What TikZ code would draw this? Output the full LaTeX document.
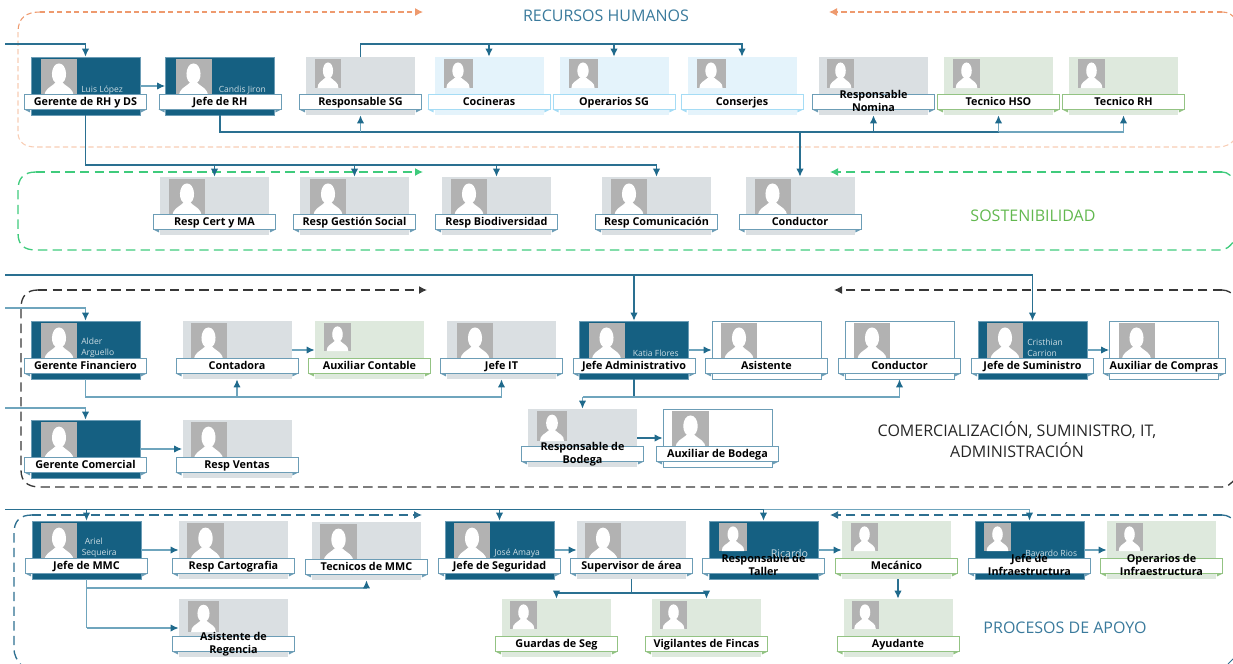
\documentclass[tikz,border=0pt]{standalone}
\usepackage{fontspec}
\setmainfont{Open Sans}
\usetikzlibrary{arrows.meta,calc}
\definecolor{dk}{HTML}{156082}
\definecolor{cgray}{HTML}{DADFE2}
\definecolor{cblue}{HTML}{E4F3FB}
\definecolor{cgreen}{HTML}{DEE9DD}
\definecolor{edgeDark}{HTML}{6C9DB6}
\definecolor{edgeGray}{HTML}{6C9DB6}
\definecolor{edgeBlue}{HTML}{A5DCF5}
\definecolor{edgeGreen}{HTML}{93C383}
\definecolor{edgeWhite}{HTML}{6C9DB6}
\definecolor{connc}{HTML}{2A7091}
\definecolor{connl}{HTML}{6FA5BD}
\definecolor{tipc}{HTML}{1F6A8C}
\definecolor{heading}{HTML}{3A7A9C}
\definecolor{sosc}{HTML}{62B84F}
\definecolor{orangeA}{HTML}{EE9A6E}
\definecolor{orangeB}{HTML}{F8CDB4}
\definecolor{greenA}{HTML}{3FCB7C}
\definecolor{blackA}{HTML}{383838}
\definecolor{blueA}{HTML}{2D6F90}
\tikzset{
  cardbase/.style={rectangle,inner sep=0pt,minimum width=81.75pt,minimum height=43.5pt,line width=.6pt},
  cardDark/.style={cardbase,fill=dk,draw=edgeDark},
  cardGray/.style={cardbase,fill=cgray},
  cardBlue/.style={cardbase,fill=cblue},
  cardGreen/.style={cardbase,fill=cgreen},
  cardWhite/.style={cardbase,fill=white,draw=edgeWhite},
  ribbon/.style={rectangle,fill=white,line width=.7pt,inner sep=0pt,minimum width=91.5pt,minimum height=11.25pt},
  ribtext/.style={inner sep=0pt,align=center,font=\bfseries\fontsize{8.1}{9.6}\selectfont,text=black},
  person/.style={inner sep=0pt,anchor=west,text=white!78!dk,font=\fontsize{6.4}{8.4}\selectfont,align=left},
  heading/.style={inner sep=0pt,align=center,font=\fontsize{12}{15.5}\selectfont},
  conn/.style={draw=connc,line width=.8pt},
  connL/.style={draw=connl,line width=.9pt},
  tip/.style={-{Latex[length=6pt,width=5.5pt,color=tipc]}},
  dashO/.style={line width=.8pt,dash pattern=on 4pt off 2.4pt},
  dashG/.style={line width=1pt,dash pattern=on 7pt off 4pt},
  tipB/.style={-{Latex[length=6pt,width=6pt]}},
}
\newcommand{\photo}[4]{%
  \begin{scope}[shift={(#1,#2)},x=#3*.75pt,y=-#4*.75pt]
    \fill[fill=black!30] (0,0) rectangle (1,1);
    \fill[white] (.5,.12) .. controls (.74,.12) and (.78,.66) .. (.5,.68) .. controls (.22,.66) and (.26,.12) .. (.5,.12);
    \fill[white] (.1,1) .. controls (.1,.8) and (.25,.78) .. (.4,.64) -- (.6,.64) .. controls (.75,.78) and (.9,.8) .. (.9,1) -- cycle;
  \end{scope}}
% name, x0, top, kind, photo dx, photo w, photo h, title
\newcommand{\card}[8]{%
  \node[card#4] (#1) at ({#2+54.5},{#3+29}) {};
  \photo{#2+#5}{#3+2}{#6}{#7}
  \node[ribbon,draw=edge#4] (#1r) at ({#2+54.5},{#3+44.5}) {};
  \fill[edge#4] (#1r.south west) -- ++(6,0) -- ++(0,3) -- cycle;
  \fill[edge#4] (#1r.south east) -- ++(-6,0) -- ++(0,3) -- cycle;
  \node[ribtext,yshift=-.8pt] (#1t) at (#1r.center) {\strut #8\strut};
}
\begin{document}
\begin{tikzpicture}[x=.75pt,y=-.75pt]
\useasboundingbox (0,0) rectangle (1233,664);
\clip (0,0) rectangle (1233,664);
% section frames
\draw[orangeA,dashO,tipB] (40,12) -- (423,12);
\draw[orangeA,dashO] (40,12) .. controls (26,12) and (18,18) .. (18,32);
\draw[orangeB,dashO] (18,32) -- (18,132) .. controls (18,142) and (24,147) .. (36,147) -- (1218,147) .. controls (1225,147) and (1230,145) .. (1236,138);
\draw[orangeA,dashO] (1222,12) .. controls (1228,12) and (1232,14) .. (1236,20);
\draw[orangeA,dashO,tipB] (1222,12) -- (829,12);
\draw[greenA,dashG,tipB] (36,172) -- (423,172);
\draw[greenA,dashG] (36,172) .. controls (24,172) and (18,178) .. (18,190) -- (18,233) .. controls (18,245) and (24,250) .. (36,250) -- (1220,250) .. controls (1226,250) and (1230,247) .. (1236,238);
\draw[greenA,dashG,tipB] (1222,172) -- (830,172);
\draw[greenA,dashG] (1222,172) .. controls (1228,172) and (1232,176) .. (1236,184);
\draw[blackA,dashG,tipB] (38,290) -- (427,290);
\draw[blackA,dashG] (38,290) .. controls (27,290) and (21,296) .. (21,308) -- (21,470) .. controls (21,481) and (27,487) .. (40,487) -- (1222,487) .. controls (1227,487) and (1231,484) .. (1236,478);
\draw[blackA,dashG,tipB] (1222,290) -- (834,290);
\draw[blackA,dashG] (1222,290) .. controls (1228,290) and (1232,293) .. (1236,298);
\draw[blueA,dashG,tipB] (32,515) -- (422,515);
\draw[blueA,dashG] (32,515) .. controls (20,515) and (14,521) .. (14,533) -- (14,648) .. controls (14,656) and (17,660) .. (22,666);
\draw[blueA,dashG,tipB] (1222,515) -- (830,515);
\draw[blueA,dashG] (1222,515) .. controls (1228,515) and (1232,518) .. (1236,523);
\draw[blueA,line width=.7pt] (1228,664) -- (1236,656);
% free ends and bus levels
\coordinate (inRH) at (5,44);
\coordinate (busSG) at (0,44);
\coordinate (busJefe) at (0,132);
\coordinate (busSos) at (0,165);
\coordinate (busCom) at (5,275);
\coordinate (inFin) at (5,308);
\coordinate (inCom) at (5,408);
\coordinate (busFin) at (0,397);
\coordinate (busAdm) at (0,397);
\coordinate (busApo) at (5,509.5);
\coordinate (busMMC) at (0,588);
\coordinate (busReg) at (0,628);
\coordinate (busSup) at (0,593);
% cards
\card{gerRH}{31}{57}{Dark}{10}{36}{37}{Gerente de RH y DS}
\card{jefRH}{165.5}{57}{Dark}{10}{36}{37}{Jefe de RH}
\card{respSG}{306}{57}{Gray}{9}{26}{29}{Responsable SG}
\card{cocin}{434.5}{57}{Blue}{9}{29}{29}{Cocineras}
\card{operSG}{559.5}{57}{Blue}{9}{29}{29}{Operarios SG}
\card{consj}{687.5}{57}{Blue}{9}{29}{29}{Conserjes}
\card{nomina}{819}{57}{Gray}{8}{27}{29}{Responsable\\Nomina}
\card{tecHSO}{944}{57}{Green}{9}{27}{29}{Tecnico HSO}
\card{tecRH}{1069}{57}{Green}{9}{27}{29}{Tecnico RH}
\card{certMA}{160}{177}{Gray}{9}{36}{37}{Resp Cert y MA}
\card{gestS}{300}{177}{Gray}{10}{36}{37}{Resp Gestión Social}
\card{biodv}{442}{177}{Gray}{9}{36}{37}{Resp Biodiversidad}
\card{comun}{602}{177}{Gray}{9}{36}{37}{Resp Comunicación}
\card{condA}{745.5}{177}{Gray}{9}{36}{37}{Conductor}
\card{gerFin}{31}{321}{Dark}{10}{36}{37}{Gerente Financiero}
\card{contad}{182.5}{321}{Gray}{8}{36}{37}{Contadora}
\card{auxCont}{315}{321}{Green}{9}{27}{28}{Auxiliar Contable}
\card{jefIT}{447}{321}{Gray}{10}{36}{37}{Jefe IT}
\card{jefAdm}{579.5}{321}{Dark}{9}{36}{37}{Jefe Administrativo}
\card{asist}{712}{321}{White}{9}{36}{37}{Asistente}
\card{condB}{845}{321}{White}{9}{36}{37}{Conductor}
\card{jefSum}{978}{321}{Dark}{9}{36}{37}{Jefe de Suministro}
\card{auxCom}{1109.5}{321}{White}{9}{36}{37}{Auxiliar de Compras}
\card{gerCom}{31}{420}{Dark}{10}{36}{38}{Gerente Comercial}
\card{respV}{182.5}{420}{Gray}{8}{36}{38}{Resp Ventas}
\card{respB}{528}{409}{Gray}{9}{30}{30}{Responsable de\\Bodega}
\card{auxB}{663}{409}{White}{9}{37}{37}{Auxiliar de Bodega}
\card{jefMMC}{32}{521}{Dark}{9}{36}{38}{Jefe de MMC}
\card{cartog}{179}{521}{Gray}{8}{37}{38}{Resp Cartografia}
\card{tecMMC}{312}{522}{Gray}{8}{37}{38}{Tecnicos de MMC}
\card{jefSeg}{445}{521}{Dark}{9}{36}{38}{Jefe de Seguridad}
\card{superv}{577}{521}{Gray}{8}{36}{38}{Supervisor de área}
\card{taller}{709}{521}{Dark}{10}{28}{28}{Responsable de\\Taller}
\card{mecan}{842}{521}{Green}{9}{27}{28}{Mecánico}
\card{jefInf}{975}{521}{Dark}{9}{27}{28}{Jefe de\\Infraestructura}
\card{operInf}{1107}{521}{Green}{9}{27}{28}{Operarios de\\Infraestructura}
\card{regen}{179}{599}{Gray}{9}{31}{31}{Asistente de\\Regencia}
\card{guard}{502}{599}{Green}{8}{27}{28}{Guardas de Seg}
\card{vigil}{652}{599}{Green}{8}{27}{28}{Vigilantes de Fincas}
\card{ayud}{843.5}{599}{Green}{8}{27}{28}{Ayudante}
% connectors: recursos humanos
\draw[conn,tip] (inRH) -| (gerRH.north);
\draw[connL,tip] (gerRH.east) -- (jefRH.west);
\draw[conn,tip] (respSG.north) |- (busSG -| consj.north) -- (consj.north);
\draw[conn,tip] (busSG -| cocin.north) -- (cocin.north);
\draw[conn,tip] (busSG -| operSG.north) -- (operSG.north);
\draw[conn] (jefRH.south) |- (busJefe -| tecHSO.south);
\draw[connL] (busJefe -| tecHSO.south) -- (busJefe -| tecRH.south);
\draw[connL,tip] (busJefe -| tecRH.south) -- (tecRH.south);
\draw[connL,tip] (busJefe -| tecHSO.south) -- (tecHSO.south);
\draw[connL,tip] (busJefe -| respSG.south) -- (respSG.south);
\draw[conn,tip] (busJefe -| nomina.south) -- (nomina.south);
\draw[conn,tip] (busJefe -| condA.north) -- (condA.north);
\draw[conn] (gerRH.south) |- (busSos -| comun.north);
\draw[conn,tip] (busSos -| comun.north) -- (comun.north);
\draw[conn,tip] (busSos -| certMA.north) -- (certMA.north);
\draw[conn,tip] (busSos -| gestS.north) -- (gestS.north);
\draw[conn,tip] (busSos -| biodv.north) -- (biodv.north);
% connectors: comercializacion
\draw[conn,tip] (busCom) -| (jefSum.north);
\draw[conn,tip] (busCom -| jefAdm.north) -- (jefAdm.north);
\draw[connL,tip] (inFin) -| (gerFin.north);
\draw[connL,tip] (inCom) -| (gerCom.north);
\draw[connL] (gerFin.south) |- (busFin -| jefIT.south);
\draw[connL,tip] (busFin -| jefIT.south) -- (jefIT.south);
\draw[connL,tip] (busFin -| contad.south) -- (contad.south);
\draw[connL,tip] (contad.east) -- (auxCont.west);
\draw[connL,tip] (gerCom.east) -- (respV.west);
\draw[connL,tip] (jefAdm.east) -- (asist.west);
\draw[connL,tip] (jefSum.east) -- (auxCom.west);
\draw[conn] (jefAdm.south) -- (busAdm -| jefAdm.south);
\draw[connL,tip] (busAdm -| respB.north) -- (busAdm -| condB.south) -- (condB.south);
\draw[connL,tip] (busAdm -| respB.north) -- (respB.north);
\draw[conn,tip] (respB.east) -- (auxB.west);
% connectors: procesos de apoyo
\draw[conn] (busApo) -- (busApo -| taller.north);
\draw[connL] (busApo -| taller.north) -- (busApo -| jefInf.north);
\draw[conn,tip] (busApo -| jefMMC.north) -- (jefMMC.north);
\draw[conn,tip] (busApo -| jefSeg.north) -- (jefSeg.north);
\draw[conn,tip] (busApo -| taller.north) -- (taller.north);
\draw[connL,tip] (busApo -| jefInf.north) -- (jefInf.north);
\draw[connL,tip] (jefMMC.east) -- (cartog.west);
\draw[connL,tip] (jefSeg.east) -- (superv.west);
\draw[connL,tip] (taller.east) -- (mecan.west);
\draw[connL,tip] (jefInf.east) -- (operInf.west);
\draw[connL] (jefMMC.south) |- (busReg -| jefMMC.south);
\draw[connL,tip] (busReg -| jefMMC.south) -- (busReg -| regen.west);
\draw[connL] (busMMC -| jefMMC.south) -- (busMMC -| tecMMC.south);
\draw[connL,tip] (busMMC -| tecMMC.south) -- (tecMMC.south);
\draw[conn] (superv.south) -- (busSup -| superv.south);
\draw[conn] (busSup -| guard.north) -- (busSup -| vigil.north);
\draw[conn,tip] (busSup -| guard.north) -- (guard.north);
\draw[conn,tip] (busSup -| vigil.north) -- (vigil.north);
\draw[conn,tip] (ayud.north |- mecan.south) -- (ayud.north);
% persons
\node[person] (pLuis) at (81,90) {Luis López};
\node[person] (pCandis) at (218.5,90) {Candis Jiron};
\node[person] (pAlder) at (81,348) {Alder\\Arguello};
\node[person] (pKatia) at (632.5,353.5) {Katia Flores};
\node[person] (pCris) at (1027,348) {Cristhian\\Carrion};
\node[person] (pAriel) at (81.5,548) {\hspace*{2.3pt}Ariel\\Sequeira};
\node[person] (pJose) at (494,553.5) {José Amaya};
\node[person,font=\fontsize{8}{9}\selectfont] (pRic) at (770.5,553) {Ricardo};
\node[person] (pBay) at (1025,554) {Bayardo Rios};
% headings
\node[heading,text=heading] (hRH) at (606,16) {RECURSOS HUMANOS};
\node[heading,text=sosc] (hSos) at (1033,216) {SOSTENIBILIDAD};
\node[heading,text=black!85] (hCom) at (1017,439.5) {COMERCIALIZACIÓN, SUMINISTRO, IT,\\ADMINISTRACIÓN};
\node[heading,text=heading] (hApo) at (1065,628) {PROCESOS DE APOYO};
\end{tikzpicture}
\end{document}
